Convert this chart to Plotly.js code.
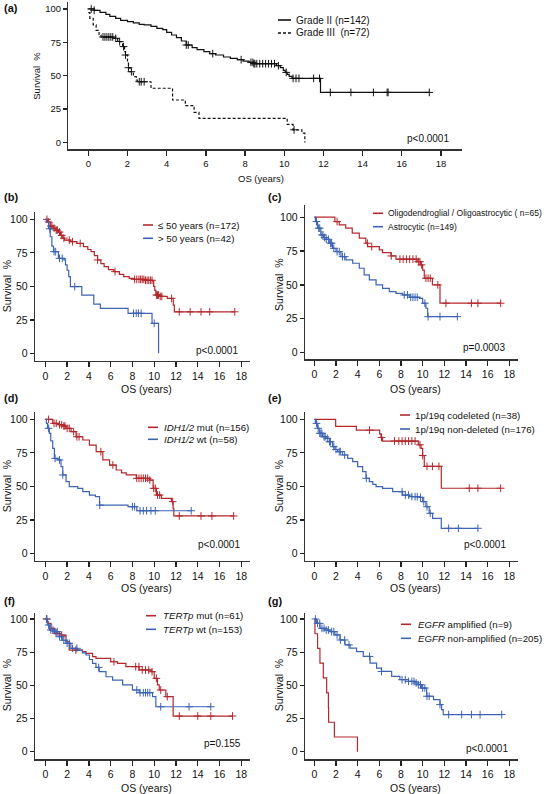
<!DOCTYPE html>
<html><head><meta charset="utf-8">
<script src="https://cdn.plot.ly/plotly-3.0.1.min.js"></script>
<style>html,body{margin:0;padding:0;background:#fff}</style>
</head><body><div id="chart" style="width:550px;height:794px"></div>
<script>
// ---------------- DATA ----------------
const xTickVals = [0,2,4,6,8,10,12,14,16,18];
const yTickVals = [0,25,50,75,100];

// (a) Grade
const a1Name = "Grade II (n=142)";
const a1T = [0,0.3,0.6,0.9,1.1,1.4,1.65,2.0,2.3,2.6,2.85,3.2,3.5,3.8,4.0,4.25,4.5,4.75,5.0,5.3,5.55,5.9,6.2,6.5,6.9,7.25,7.6,7.9,8.2,8.45,9.6,9.8,9.95,10.05,10.15,10.25,10.4,11.85,17.4];
const a1S = [100,99,97.5,96,94.5,93,91.5,90.5,89.5,88.5,88,87,85.5,84.5,82.5,80.5,78.5,76,73,71,69.5,68,66.5,65.5,64,63,62,61,60,59,57.5,56,54,52.5,51,49.5,48,37.5,37.5];
const a1C = [0.15,0.3,5.0,5.1,6.35,7.8,8.3,8.4,8.45,8.5,8.6,8.75,8.9,9.05,9.2,9.35,9.5,9.7,10.1,10.45,10.6,10.75,11.5,11.8,12.35,13.4,14.55,15.25,15.3,17.4];
const a2Name = "Grade III  (n=72)";
const a2T = [0,0.08,0.25,0.4,0.55,0.65,1.3,1.5,1.75,1.85,1.9,2.0,2.05,2.13,2.3,2.45,2.5,3.2,4.3,4.95,5.4,5.65,10.15,10.45,10.9,11.05];
const a2S = [97.2,93,88,84,80.5,79,78,75.6,71.8,68,65.5,60,56,53,49.3,46.8,45.5,40.6,31.8,27.6,22.5,18.1,13.5,9.5,7,0];
const a2C = [0.75,0.85,0.95,1.05,1.15,1.25,1.4,1.6,1.8,1.9,2.05,2.2,2.6,2.7,2.85,10.5];

// (b) Age
const b1Name = "\u2264 50 years (n=172)";
const b1T = [0,0.2,0.45,0.7,0.95,1.2,1.4,1.6,1.75,2.3,2.9,3.5,3.9,4.2,4.5,4.8,5.1,5.4,5.8,6.3,6.8,7.2,7.7,8.15,9.1,9.85,9.95,10.05,10.15,10.5,11.2,11.75,11.85,17.4];
const b1S = [100,98,95,93.5,92,90.5,88,86,84.5,83.3,82,79.6,77.5,75.9,73,69.7,67,64.7,62.5,61,59,57.2,56,55.2,54.5,54,50,47,43.5,42.5,41,36,31,31];
const b1C = [0.15,0.3,0.5,0.6,0.8,1.0,1.1,1.3,1.5,1.7,2.2,2.5,3.2,4.8,6.4,8.2,8.4,8.6,8.75,8.9,9.05,9.2,9.35,9.5,9.65,9.8,10.2,10.3,10.4,10.55,10.7,11.6,12.3,13.3,14.3,15.1,17.4];
const b2Name = "> 50 years (n=42)";
const b2T = [0,0.1,0.3,0.45,0.6,0.75,1.2,1.7,1.85,2.0,2.15,2.3,3.35,4.45,5.05,7.6,9.8,10.4];
const b2S = [100,98,93,87,80,75.9,70.9,69.7,66,62,57.2,49.8,43.5,36.8,33.6,29.9,22.4,0];
const b2C = [0.4,0.8,0.95,1.3,1.55,2.7,8.1,8.35,8.55,8.8,10.0];

// (c) Histology
const c1Name = "Oligodendroglial / Oligoastrocytic ( n=65)";
const c1T = [0,1.9,2.3,2.9,3.5,4.15,4.75,4.92,6.0,6.3,7.08,7.54,9.5,9.8,10.0,10.15,10.9,11.6,17.2];
const c1S = [100,96.8,94.3,91.9,88.2,84.5,80.8,78.3,75.9,73.9,71.4,69,67.2,64.8,61,54.9,50,36.5,36.5];
const c1C = [2.1,4.9,5.3,7.1,7.9,8.2,8.5,8.8,9.1,9.4,9.6,9.75,9.9,10.3,10.5,10.7,11.4,12.15,14.5,15.1,17.2];
const c2Name = "Astrocytic (n=149)";
const c2T = [0,0.1,0.3,0.6,0.85,1.08,1.38,1.69,2.0,2.46,2.92,3.54,4.15,4.6,5.08,5.7,6.3,6.92,7.54,8.15,8.77,9.7,10.0,10.3,10.46,13.2];
const c2S = [100,96.8,91.9,86.9,85,83.7,80.8,77,74.6,70.9,68.5,66,62.3,57.4,53.7,50,47.5,45,43.8,42.6,40.9,40.1,36.5,32.8,26.6,26.6];
const c2C = [0.2,0.4,0.5,0.7,0.8,0.95,1.1,1.3,1.5,1.6,1.8,2.1,2.3,2.6,2.8,8.3,8.6,8.9,9.1,9.3,9.5,10.2,10.5,11.6,13.2];

// (d) IDH1/2
const d1Name = "<i>IDH1/2</i> mut (n=156)";
const d1T = [0,0.68,1.2,1.6,1.9,2.37,2.83,3.44,4.05,4.67,5.28,5.9,6.51,7.0,7.43,8.36,9.59,9.9,10.2,10.66,11.58,11.74,11.8,17.3];
const d1S = [100,97,96,95,93.3,90.8,87,84.6,80.8,75.9,69.7,65.9,62.2,60,58.5,56,54.7,48.5,43.5,41,38.6,33.6,27.9,27.9];
const d1C = [0.3,0.8,1.0,1.3,1.5,1.7,1.8,2.0,2.2,2.6,2.9,3.1,5.1,6.2,8.4,8.6,8.8,9.0,9.2,9.4,9.6,9.95,10.1,10.3,10.5,11.7,12.3,14.3,15.3,17.3];
const d2Name = "<i>IDH1/2</i> wt (n=58)";
const d2T = [0,0.1,0.2,0.37,0.5,0.68,0.83,1.14,1.44,1.6,1.9,2.2,2.98,3.44,4.05,4.6,4.98,7.59,8.4,13.4];
const d2S = [100,97,93.3,89.6,84,78.4,70.9,69.7,64.7,58.5,53.5,49.8,48.5,46,43.5,42.3,36,34.8,31.8,31.8];
const d2C = [0.3,0.9,1.3,1.6,5.0,8.0,8.2,8.7,9.0,9.3,9.7,10.1,13.4];

// (e) 1p/19q
const e1Name = "1p/19q codeleted (n=38)";
const e1T = [0,1.97,3.88,6.03,6.15,6.3,9.6,9.85,10.0,10.15,11.72,17.2];
const e1S = [100,94.7,91.9,89.2,86.5,83.8,81,78.3,73,64.9,48.6,48.6];
const e1C = [5.1,6.2,7.4,7.8,8.1,8.4,8.7,9.0,9.3,9.75,10.0,10.4,10.9,11.5,14.3,15.1,17.2];
const e2Name = "1p/19q non-deleted (n=176)";
const e2T = [0,0.1,0.3,0.46,0.77,1.08,1.38,1.69,1.9,2.15,2.6,3.08,3.54,4.0,4.46,4.77,5.08,5.4,5.7,6.3,7.23,8.15,8.77,9.7,10.0,10.3,10.6,10.92,11.72,15.1];
const e2S = [100,97,93.3,89.6,87,85.8,83.3,79.6,77.5,75.9,73.4,70.9,68.4,64.7,61,56,53.5,51.5,49.8,48.5,46,43.5,42.3,41.8,38.6,34.8,29.9,26.1,18.7,18.7];
const e2C = [0.2,0.35,0.5,0.6,0.7,0.9,1.0,1.2,1.4,1.5,1.8,2.0,2.3,2.4,2.8,4.8,8.1,8.4,8.7,9.0,9.3,9.5,9.8,10.1,10.4,10.7,12.4,13.3,15.1];

// (f) TERTp
const f1Name = "<i>TERTp</i> mut (n=61)";
const f1T = [0,0.2,0.52,0.83,1.44,1.9,2.2,3.42,3.73,4.34,4.65,6.0,6.64,7.4,8.62,9.7,10.0,10.3,10.46,11.07,11.74,17.2];
const f1S = [100,96.7,93,89.2,87.9,82.9,76.6,75.4,74.1,71.6,70.4,67.8,66.6,64.1,61.6,60.3,55.3,50.3,46.5,41.5,26.9,26.9];
const f1C = [0.1,1.0,1.5,2.8,6.3,8.3,8.6,8.9,9.2,9.5,9.8,10.2,10.6,11.2,12.3,14.0,15.2,17.2];
const f2Name = "<i>TERTp</i> wt (n=153)";
const f2T = [0,0.2,0.37,0.83,1.28,1.6,1.9,2.35,2.97,3.4,3.73,4.05,4.34,4.65,4.95,5.57,6.18,7.1,8.0,8.62,9.85,10.15,15.2];
const f2S = [100,95.5,91.7,90.5,86.7,84,81.7,77.9,76.6,74.5,72.9,69.5,66.6,63.5,60.3,56.5,54,50.3,46.5,44.5,41.5,33.9,33.9];
const f2C = [0.15,0.3,0.5,0.7,0.9,1.1,1.3,1.5,1.7,2.0,2.2,2.5,2.9,4.9,8.4,8.7,9.0,9.2,9.4,9.6,10.6,13.2,15.2];

// (g) EGFR
const g1Name = "<i>EGFR</i> amplified (n=9)";
const g1T = [0,0.06,0.3,0.52,0.83,1.14,1.3,1.32,1.85,3.98];
const g1S = [100,88.9,77.8,66.7,55.6,44.4,33.3,22.2,11.1,0];
const g1C = [];
const g2Name = "<i>EGFR</i> non-amplified (n=205)";
const g2T = [0,0.2,0.52,0.98,1.45,1.9,2.37,2.83,3.3,3.9,4.52,5.14,5.75,6.2,7.14,7.9,8.68,9.3,9.6,9.9,10.37,11.0,11.6,11.75,11.9,17.3];
const g2S = [100,96.7,93,91.7,90.5,88,84.2,80.5,78,75.5,71.8,66.8,63,60.5,56.8,54.3,53,51.8,50.5,48,41.8,39.3,35.5,31.8,28,28];
const g2C = [0.1,0.3,0.5,0.7,0.9,1.1,1.3,1.6,1.8,2.1,2.4,2.8,3.2,5.1,6.2,8.1,8.4,8.7,9.0,9.2,9.4,9.6,9.8,10.0,10.2,10.4,10.6,11.6,12.4,13.6,14.5,15.3,17.3];

const pValues = ["p<0.0001","p<0.0001","p=0.0003","p<0.0001","p<0.0001","p=0.155","p<0.0001"];
const panelLabels = ["(a)","(b)","(c)","(d)","(e)","(f)","(g)"];

// ---------------- LAYOUT / DRAWING ----------------
const W = 550, H = 794;
const RED = "#b3282d", BLUE = "#3d64b2", BLACK = "#111111";
const FONT = "Arial, 'Liberation Sans', sans-serif";
const px2x = p => p / W;
const px2y = p => 1 - p / H;

const panels = [
  {xp:[68.3,462], yp:[2,149.3], xr:[-1.02,19.07], yr:[-5.1,105.2], fs:9.5, lf:10,
   series:[[a1T,a1S,a1C,BLACK,"solid",a1Name],[a2T,a2S,a2C,BLACK,"3px,2px",a2Name]],
   leg:{x0:278,x1:291,tx:294,y:[20,33]}, p:{x:451,y:138}, lab:{x:2,y:8.5}, xt:{y:178,t:8.8}, yt:{x:37}},
  {xp:[35,250], yp:[211.7,361], xr:[-0.95,18.8], yr:[-5.7,105.7], fs:10.5, lf:9.7,
   series:[[b1T,b1S,b1C,RED,"solid",b1Name],[b2T,b2S,b2C,BLUE,"solid",b2Name]],
   leg:{x0:143,x1:153,tx:156,y:[225,238.3]}, p:{x:240,y:350}, lab:{x:2,y:197}, xt:{y:389,t:9.3}, yt:{x:7}},
  {xp:[305,518], yp:[205,359.3], xr:[-0.86,18.8], yr:[-4.9,109], fs:10.5, lf:8.5,
   series:[[c1T,c1S,c1C,RED,"solid",c1Name],[c2T,c2S,c2C,BLUE,"solid",c2Name]],
   leg:{x0:373,x1:383,tx:386,y:[213.3,226.7]}, p:{x:507,y:348}, lab:{x:266,y:197}, xt:{y:389,t:9.3}, yt:{x:279}},
  {xp:[35,250], yp:[411.7,561], xr:[-0.95,18.8], yr:[-5.7,105.7], fs:10.5, lf:9.7,
   series:[[d1T,d1S,d1C,RED,"solid",d1Name],[d2T,d2S,d2C,BLUE,"solid",d2Name]],
   leg:{x0:148,x1:158,tx:162,y:[427.3,439.3]}, p:{x:242,y:544}, lab:{x:2,y:398}, xt:{y:588,t:9.3}, yt:{x:7}},
  {xp:[305,518], yp:[411.7,561], xr:[-0.86,18.8], yr:[-5.7,105.7], fs:10.5, lf:9.7,
   series:[[e1T,e1S,e1C,RED,"solid",e1Name],[e2T,e2S,e2C,BLUE,"solid",e2Name]],
   leg:{x0:400,x1:410,tx:413,y:[415,429]}, p:{x:508,y:544}, lab:{x:266,y:398}, xt:{y:588,t:9.3}, yt:{x:279}},
  {xp:[35,250], yp:[613.3,759.3], xr:[-0.95,18.8], yr:[-5.7,104.3], fs:10.5, lf:9.7,
   series:[[f1T,f1S,f1C,RED,"solid",f1Name],[f2T,f2S,f2C,BLUE,"solid",f2Name]],
   leg:{x0:146,x1:156,tx:161,y:[615.7,629.3]}, p:{x:243,y:743.5}, lab:{x:2,y:601}, xt:{y:788,t:9.3}, yt:{x:7}},
  {xp:[305,518], yp:[613.3,759.3], xr:[-0.86,18.8], yr:[-5.7,104.3], fs:10.5, lf:9.7,
   series:[[g1T,g1S,g1C,RED,"solid",g1Name],[g2T,g2S,g2C,BLUE,"solid",g2Name]],
   leg:{x0:401,x1:411,tx:416,y:[624.3,638.3]}, p:{x:510,y:748.5}, lab:{x:266,y:601}, xt:{y:788,t:9.3}, yt:{x:279}}
];

function survAt(t, T, S) {
  let s = S[0];
  for (let i = 0; i < T.length; i++) { if (T[i] <= t + 1e-9) s = S[i]; else break; }
  return s;
}

const data = [];
const layout = {
  width: W, height: H, margin: {l:0,r:0,t:0,b:0},
  paper_bgcolor: "#fff", plot_bgcolor: "rgba(0,0,0,0)",
  showlegend: false, font: {family: FONT, color: "#111"},
  shapes: [], annotations: []
};

panels.forEach((P, i) => {
  const n = i + 1;
  const xa = n === 1 ? "x" : "x" + n, ya = n === 1 ? "y" : "y" + n;
  const xk = n === 1 ? "xaxis" : "xaxis" + n, yk = n === 1 ? "yaxis" : "yaxis" + n;
  layout[xk] = {
    domain: [px2x(P.xp[0]), px2x(P.xp[1])], range: P.xr, anchor: ya,
    tickvals: xTickVals, ticks: "outside", ticklen: 5, tickwidth: 1.3, tickcolor: "#222",
    showline: true, linecolor: "#333", linewidth: 1.3, showgrid: false, zeroline: false,
    tickfont: {size: P.fs, family: FONT, color: "#111"}, fixedrange: true
  };
  layout[yk] = {
    domain: [px2y(P.yp[1]), px2y(P.yp[0])], range: P.yr, anchor: xa,
    tickvals: yTickVals, ticks: "outside", ticklen: 4, tickwidth: 1.3, tickcolor: "#222",
    showline: true, linecolor: "#333", linewidth: 1.3, showgrid: false, zeroline: false,
    tickfont: {size: P.fs, family: FONT, color: "#111"}, fixedrange: true
  };
  P.series.forEach((sr, k) => {
    const [T, S, C, col, dash, name] = sr;
    data.push({x: T, y: S, xaxis: xa, yaxis: ya, type: "scatter", mode: "lines",
      line: {shape: "hv", color: col, width: 1.2, dash: dash}, name: name, hoverinfo: "skip"});
    if (C.length) {
      data.push({x: C, y: C.map(t => survAt(t, T, S)), xaxis: xa, yaxis: ya, type: "scatter", mode: "markers",
        marker: {symbol: "cross-thin", size: 5.5, line: {color: col, width: 1}}, hoverinfo: "skip"});
    }
    const ly = P.leg.y[k];
    layout.shapes.push({type: "line", xref: "paper", yref: "paper",
      x0: px2x(P.leg.x0), x1: px2x(P.leg.x1), y0: px2y(ly), y1: px2y(ly),
      line: {color: col, width: 1.6, dash: dash === "solid" ? "solid" : "3px,2px"}});
    layout.annotations.push({xref: "paper", yref: "paper", x: px2x(P.leg.tx), y: px2y(ly),
      xanchor: "left", yanchor: "middle", showarrow: false, text: name,
      font: {size: P.lf, family: FONT, color: "#111"}});
  });
  layout.annotations.push({xref: "paper", yref: "paper", x: px2x(P.p.x), y: px2y(P.p.y),
    xanchor: "right", yanchor: "middle", showarrow: false, text: pValues[i],
    font: {size: 10, family: FONT, color: "#111"}});
  layout.annotations.push({xref: "paper", yref: "paper", x: px2x(P.lab.x), y: px2y(P.lab.y),
    xanchor: "left", yanchor: "middle", showarrow: false, text: "<b>" + panelLabels[i] + "</b>",
    font: {size: 11, family: FONT, color: "#111"}});
  layout.annotations.push({xref: xa, yref: "paper", x: P.xt.t, y: px2y(P.xt.y),
    xanchor: "center", yanchor: "middle", showarrow: false, text: "OS (years)",
    font: {size: P.fs, family: FONT, color: "#111"}});
  layout.annotations.push({xref: "paper", yref: ya, x: px2x(P.yt.x), y: 50,
    xanchor: "center", yanchor: "middle", showarrow: false, text: "Survival  %", textangle: -90,
    font: {size: P.fs, family: FONT, color: "#111"}});
});

Plotly.newPlot("chart", data, layout, {displayModeBar: false, staticPlot: true});
</script>
</body></html>
